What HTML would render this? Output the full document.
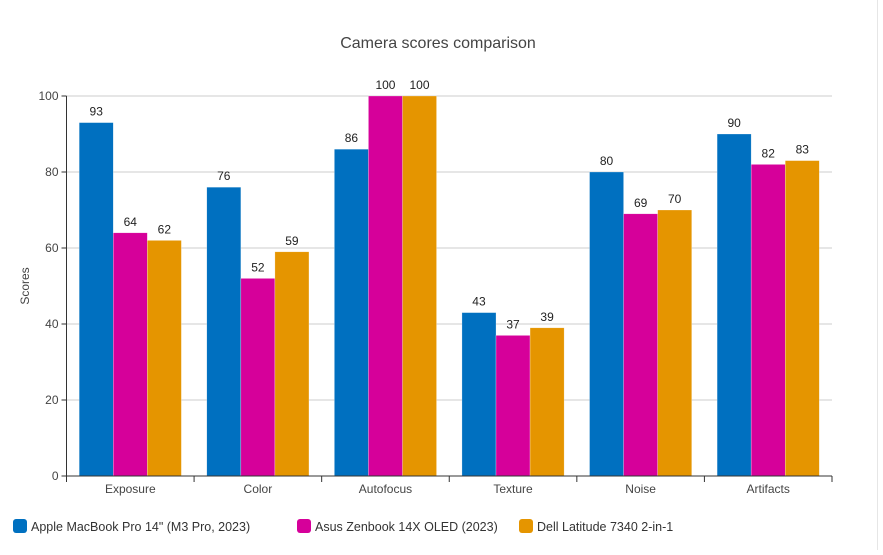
<!DOCTYPE html>
<html><head><meta charset="utf-8"><style>
body{margin:0;background:#fff;font-family:"Liberation Sans",sans-serif;}
#card{position:absolute;left:0;top:0;width:877px;height:550px;border-right:1px solid #e6e6e6;background:#fff;}
</style></head><body>
<div id="card">
<svg id="chart" width="883" height="550"></svg>
</div>
<script>
const categories=["Exposure","Color","Autofocus","Texture","Noise","Artifacts"];
const seriesNames=["Apple MacBook Pro 14\" (M3 Pro, 2023)","Asus Zenbook 14X OLED (2023)","Dell Latitude 7340 2-in-1"];
const apple=[93,76,86,43,80,90];
const asus=[64,52,100,37,69,82];
const dell=[62,59,100,39,70,83];
const yTicks=[0,20,40,60,80,100];
const colors=["#0070c0","#d6009a","#e59500"];
const series=[apple,asus,dell];
const NS="http://www.w3.org/2000/svg";
const svg=document.getElementById('chart');
const L=66.5,R=832,T=96,B=476;
const y=v=>B-(v/100)*(B-T);
const gw=(R-L)/categories.length;
const x=i=>L+i*gw;
function mk(tag,attrs,text){const e=document.createElementNS(NS,tag);for(const k in attrs)e.setAttribute(k,attrs[k]);if(text!==undefined)e.textContent=text;svg.appendChild(e);return e;}
let t=mk('text',{x:438,y:48,'text-anchor':'middle','font-size':16,fill:'#444'},'Camera scores comparison');


yTicks.forEach(v=>{
 if(v>0){const g=mk('line',{x1:L,x2:R,y1:y(v),y2:y(v),stroke:'#ccc','stroke-width':1});
 
 }
 const tk=mk('line',{x1:L-5,x2:L,y1:y(v),y2:y(v),stroke:'#333'});
 
 
 const lb=mk('text',{x:L-8,y:y(v)+4,'text-anchor':'end','font-size':12,fill:'#444'},v);
 
 
});
const yt=mk('text',{x:0,y:0,transform:'translate(29,286) rotate(-90)','text-anchor':'middle','font-size':12,fill:'#444'},'Scores');


const pad=12.7,bw=(gw-2*pad)/3;
categories.forEach((c,i)=>{
 series.forEach((s,j)=>{
  const bx=x(i)+pad+j*bw;
  const r=mk('rect',{x:bx,y:y(s[i]),width:bw,height:B-y(s[i]),fill:colors[j],stroke:'rgba(255,255,255,0.5)','stroke-width':0.5});
  
  
  const v=mk('text',{x:bx+bw/2,y:y(s[i])-7,'text-anchor':'middle','font-size':12,fill:'#222'},s[i]);
  
  
 });
 const tk=mk('line',{x1:x(i),x2:x(i),y1:B,y2:B+6,stroke:'#333'});
 
 
 const lb=mk('text',{x:x(i)+gw/2,y:B+17,'text-anchor':'middle','font-size':12,fill:'#444'},c);
 
 
});
const tkE=mk('line',{x1:R,x2:R,y1:B,y2:B+6,stroke:'#333'});


const ax=mk('line',{x1:L,x2:L,y1:T,y2:B,stroke:'#333'});


const ax2=mk('line',{x1:L,x2:R,y1:B,y2:B,stroke:'#333'});


const lx=[13,297,519];
seriesNames.forEach((n,j)=>{
 const r=mk('rect',{x:lx[j],y:519,width:14,height:14,rx:3,fill:colors[j]});
 
 
 const tx=mk('text',{x:lx[j]+18,y:531,'font-size':12.5,fill:'#333'},n);
 
 
});
</script>
</body></html>
